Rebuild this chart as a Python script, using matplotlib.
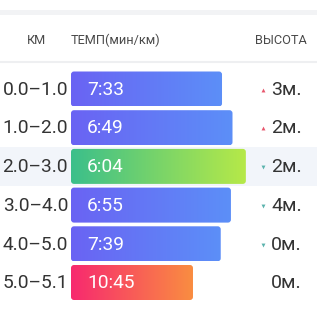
import matplotlib
matplotlib.use("Agg")
import matplotlib.pyplot as plt
import numpy as np
from matplotlib.colors import LinearSegmentedColormap
from matplotlib.patches import FancyBboxPatch, Rectangle

# Split data
km_ranges = ["0.0–1.0", "1.0–2.0", "2.0–3.0", "3.0–4.0", "4.0–5.0", "5.0–5.1"]
paces = ["7:33", "6:49", "6:04", "6:55", "7:39", "10:45"]
elevations = ["3м.", "2м.", "2м.", "4м.", "0м.", "0м."]
trend = ["up", "up", "down", "down", "down", ""]
headers = ["КМ", "ТЕМП(мин/км)", "ВЫСОТА"]

plt.rcParams["font.family"] = ["Roboto", "DejaVu Sans"]

fig = plt.figure(figsize=(3.17, 3.17), dpi=100)
ax = fig.add_axes([0, 0, 1, 1])
ax.set_xlim(0, 317)
# rows: center of row i sits at pixel 89 + 38.7*i
row_px = 38.7
ax.set_ylim((317 - 89) / row_px, -89 / row_px)
ax.set_aspect("auto")
ax.axis("off")


def px_y(p):
    return (p - 89) / row_px


# top strip and header separator
ax.add_patch(Rectangle((0, px_y(15)), 317, px_y(10) - px_y(15), color="#f2f3f5", lw=0))
ax.axhline(px_y(62), color="#eeeff1", lw=1.5)

ax.text(36, px_y(40), headers[0], ha="center", va="center", fontsize=9.2, color="#4a4a4a")
ax.text(71, px_y(40), headers[1], ha="left", va="center", fontsize=9.2, color="#4a4a4a")
ax.text(307, px_y(40), headers[2], ha="right", va="center", fontsize=9.2, color="#4a4a4a")

secs = np.array([int(p.split(":")[0]) * 60 + int(p.split(":")[1]) for p in paces])
speed = 3600 / secs  # km/h
fastest = np.argmin(secs)
slowest = np.argmax(secs)

blue = LinearSegmentedColormap.from_list("b", ["#6a63f3", "#5c8ff8"])
green = LinearSegmentedColormap.from_list("g", ["#3bbf8b", "#b6e948"])
red = LinearSegmentedColormap.from_list("r", ["#f7296f", "#fa8d41"])

bar_left = 71
bar_h = 35 / row_px
grad = np.linspace(0, 1, 256).reshape(1, -1)

for i, (rng, pace, el, tr) in enumerate(zip(km_ranges, paces, elevations, trend)):
    if i == fastest:
        ax.add_patch(Rectangle((0, i - 0.5), 317, 1.0, color="#f2f5fa", lw=0, zorder=0))
    width = 53.5 + 12.27 * speed[i]
    cmap = green if i == fastest else (red if i == slowest else blue)
    box = FancyBboxPatch((bar_left, i - bar_h / 2), width, bar_h,
                         boxstyle="round,pad=0,rounding_size=3",
                         mutation_aspect=1 / row_px, fc="none", ec="none")
    ax.add_patch(box)
    im = ax.imshow(grad, cmap=cmap, aspect="auto",
                   extent=(bar_left, bar_left + width, i + bar_h / 2, i - bar_h / 2),
                   zorder=2)
    im.set_clip_path(box)
    ax.text(68, i + 0.02, rng, ha="right", va="center", fontsize=13.8, color="#333333")
    ax.text(87, i + 0.02, pace, ha="left", va="center", fontsize=13.8, color="white", zorder=3)
    ax.text(302, i + 0.02, el, ha="right", va="center", fontsize=14, color="#333333")
    if tr == "up":
        ax.plot(263, i + 0.02, marker="^", ms=2.8, color="#e8566c", mec="none")
    elif tr == "down":
        ax.plot(263, i + 0.02, marker="v", ms=2.8, color="#5bb3ad", mec="none")

ax.set_ylim((317 - 89) / row_px, -89 / row_px)
fig.savefig("out.png", dpi=100, facecolor="white")
